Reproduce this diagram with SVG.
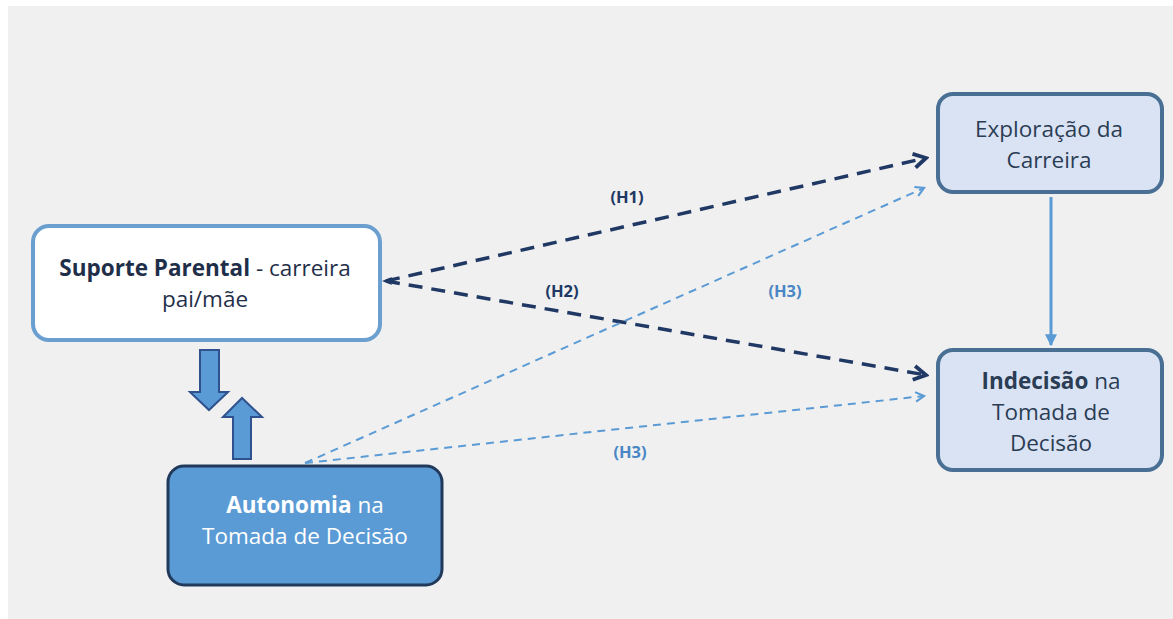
<svg xmlns="http://www.w3.org/2000/svg" width="1173" height="619" viewBox="0 0 1173 619">
<style>
.t{font-family:"Open Sans","Noto Sans","Liberation Sans",sans-serif;font-size:22.5px;text-anchor:middle}
.lbl{font-family:"Open Sans","Noto Sans","Liberation Sans",sans-serif;font-size:16.5px;font-weight:bold;text-anchor:middle}
.dark{stroke:#203864;stroke-width:3.5;stroke-dasharray:14,9;fill:none}
.light{stroke:#5b9bd5;stroke-width:2;stroke-dasharray:8,6;fill:none}
</style>
<defs>
<marker id="mdark" viewBox="0 0 10 10" refX="8" refY="5" markerWidth="5" markerHeight="5" markerUnits="strokeWidth" orient="auto">
<path d="M1,1 L8,5 L1,9" fill="none" stroke="#203864" stroke-width="2.2"/>
</marker>
<marker id="mlight" viewBox="0 0 10 10" refX="8" refY="5" markerWidth="6" markerHeight="6" markerUnits="strokeWidth" orient="auto">
<path d="M1,1 L8,5 L1,9" fill="none" stroke="#5b9bd5" stroke-width="1.8"/>
</marker>
<marker id="msolid" viewBox="0 0 10 10" refX="9" refY="5" markerWidth="4" markerHeight="4" markerUnits="strokeWidth" orient="auto">
<path d="M0,0 L10,5 L0,10 Z" fill="#5b9bd5"/>
</marker>
</defs>
<rect x="0" y="0" width="1173" height="619" fill="#ffffff"/>
<rect x="8" y="6" width="1165" height="613" fill="#f0f0f0"/>

<g id="connectors">
<line class="dark" x1="386" y1="281" x2="926" y2="158" marker-end="url(#mdark)"/>
<line class="dark" x1="386" y1="281" x2="926" y2="375" marker-end="url(#mdark)"/>
<path d="M382,281 L392,277 L390,281 L392,285 Z" fill="#203864"/>
<line class="light" x1="305" y1="463" x2="924" y2="188" marker-end="url(#mlight)"/>
<line class="light" x1="305" y1="463" x2="924" y2="396" marker-end="url(#mlight)"/>
<line x1="1051" y1="197" x2="1051" y2="345" stroke="#5b9bd5" stroke-width="3" marker-end="url(#msolid)"/>
<path d="M200,350 L219,350 L219,392 L228,392 L209,410 L190,392 L200,392 Z" fill="#5b9bd5" stroke="#2f528f" stroke-width="2"/>
<path d="M233,459 L251,459 L251,417 L262,417 L242,398 L223,417 L233,417 Z" fill="#5b9bd5" stroke="#2f528f" stroke-width="2"/>
<text class="lbl" x="627" y="203" fill="#203864">(H1)</text>
<text class="lbl" x="562" y="297" fill="#203864">(H2)</text>
<text class="lbl" x="785" y="297" fill="#4a86c5">(H3)</text>
<text class="lbl" x="630" y="458" fill="#4a86c5">(H3)</text>
</g>

<g id="suporte">
<rect x="33" y="226" width="347" height="114" rx="16" fill="#ffffff" stroke="#6a9fd0" stroke-width="4"/>
<text class="t" x="205" y="276" font-size="24" fill="#1f2f4a"><tspan font-weight="bold">Suporte Parental</tspan> - carreira</text>
<text class="t" x="205" y="307" font-size="24" fill="#1f2f4a">pai/mãe</text>
</g>

<g id="autonomia">
<rect x="168" y="466" width="274" height="119" rx="16" fill="#5b9bd5" stroke="#213a5c" stroke-width="3"/>
<text class="t" x="305" y="513" fill="#ffffff"><tspan font-weight="bold">Autonomia</tspan> na</text>
<text class="t" x="305" y="544" fill="#ffffff">Tomada de Decisão</text>
</g>

<g id="exploracao">
<rect x="938" y="94" width="224" height="98" rx="15" fill="#dae3f3" stroke="#4a6f95" stroke-width="4"/>
<text class="t" x="1049" y="137" fill="#2a3d55">Exploração da</text>
<text class="t" x="1049" y="168" fill="#2a3d55">Carreira</text>
</g>

<g id="indecisao">
<rect x="938" y="350" width="224" height="120" rx="15" fill="#dae3f3" stroke="#4a6f95" stroke-width="4"/>
<text class="t" x="1051" y="389" fill="#2a3d55"><tspan font-weight="bold">Indecisão</tspan> na</text>
<text class="t" x="1051" y="420" fill="#2a3d55">Tomada de</text>
<text class="t" x="1051" y="451" fill="#2a3d55">Decisão</text>
</g>
</svg>
